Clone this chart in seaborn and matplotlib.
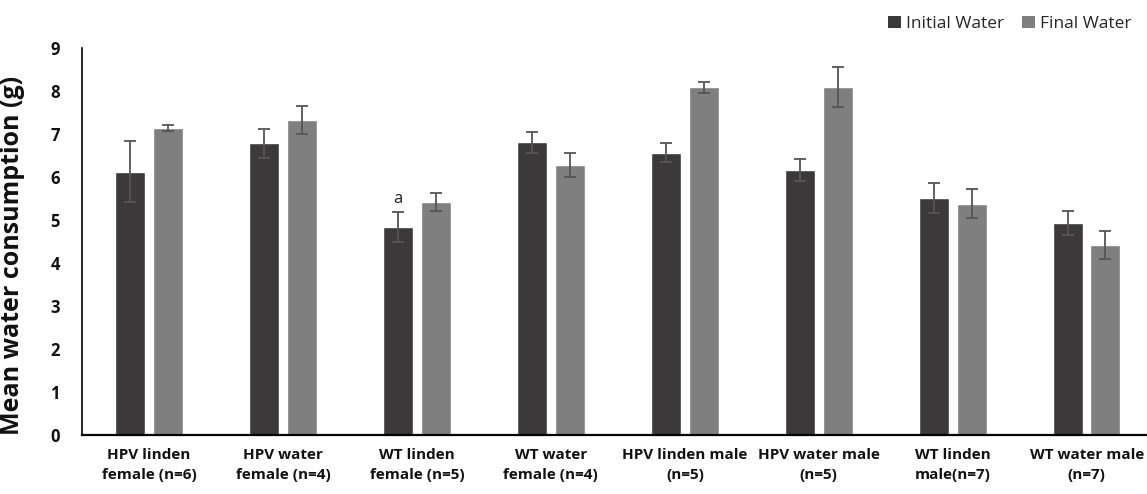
import matplotlib
matplotlib.use("Agg")
import matplotlib.pyplot as plt
import seaborn as sns
import pandas as pd
import numpy as np
from matplotlib.patches import Patch

categories = ["HPV linden\nfemale (n=6)", "HPV water\nfemale (n=4)", "WT linden\nfemale (n=5)",
              "WT water\nfemale (n=4)", "HPV linden male\n(n=5)", "HPV water male\n(n=5)",
              "WT linden\nmale(n=7)", "WT water male\n(n=7)"]
series = ["Initial Water", "Final Water"]
initial_vals = [6.12, 6.78, 4.84, 6.81, 6.57, 6.16, 5.51, 4.92]
final_vals = [7.15, 7.32, 5.41, 6.28, 8.09, 8.10, 5.38, 4.42]
initial_err = [0.71, 0.34, 0.35, 0.24, 0.22, 0.26, 0.34, 0.28]
final_err = [0.07, 0.32, 0.21, 0.27, 0.13, 0.47, 0.33, 0.33]
yticks = list(range(0, 10))
colors = ["#3b3939", "#7f7f7f"]

df = pd.DataFrame({
    "cat": categories * 2,
    "series": [series[0]] * len(categories) + [series[1]] * len(categories),
    "value": initial_vals + final_vals,
})

sns.set_theme(style="white")
plt.rcParams["font.family"] = ["Open Sans", "DejaVu Sans"]

fig = plt.figure(figsize=(11.47, 4.94), dpi=100)
ax = fig.add_axes([0.0715, 0.1194, 0.9285, 0.7834])

sns.barplot(data=df, x="cat", y="value", hue="series", order=categories, hue_order=series,
            palette=colors, width=0.56, gap=0.2, errorbar=None, ax=ax, legend=False,
            saturation=1)

for cont, errs in zip(ax.containers, [initial_err, final_err]):
    xs = [p.get_x() + p.get_width() / 2 for p in cont.patches]
    hs = [p.get_height() for p in cont.patches]
    ax.errorbar(xs, hs, yerr=errs, fmt="none", ecolor="#555555", elinewidth=1.3,
                capsize=4, capthick=1.3, zorder=5)

# annotation "a"
p = ax.containers[0].patches[2]
ax.text(p.get_x() + p.get_width() / 2, initial_vals[2] + initial_err[2] + 0.12, "a",
        ha="center", va="bottom", fontsize=12, color="#222222")

ax.set_ylim(0, 9)
ax.set_xlim(-0.5, 7.45)
ax.set_yticks(yticks)
ax.set_yticklabels([str(t) for t in yticks], fontsize=12, fontweight="bold", color="#111111")
ax.set_xticks(range(len(categories)))
ax.set_xticklabels(categories, fontsize=11, fontweight="bold", color="#111111",
                   linespacing=1.6)
ax.tick_params(axis="x", length=0, pad=9)
ax.tick_params(axis="y", length=0, pad=16)
ax.set_xlabel("")
ax.set_ylabel("Mean water consumption (g)", fontsize=18, fontweight="bold", color="#111111")
ax.yaxis.set_label_coords(-0.0535, 0.465)
for s in ["top", "right"]:
    ax.spines[s].set_visible(False)
ax.spines["left"].set_color("black")
ax.spines["bottom"].set_color("black")
ax.spines["left"].set_linewidth(1.2)
ax.spines["bottom"].set_linewidth(1.6)

handles = [Patch(facecolor=c, edgecolor="none") for c in colors]
fig.legend(handles, series, loc="upper right", bbox_to_anchor=(1.0, 1.0), ncol=2, frameon=False,
           fontsize=12.5, handlelength=0.75, handleheight=0.75, handletextpad=0.3, columnspacing=1.0)

fig.savefig("out.png", dpi=100)
